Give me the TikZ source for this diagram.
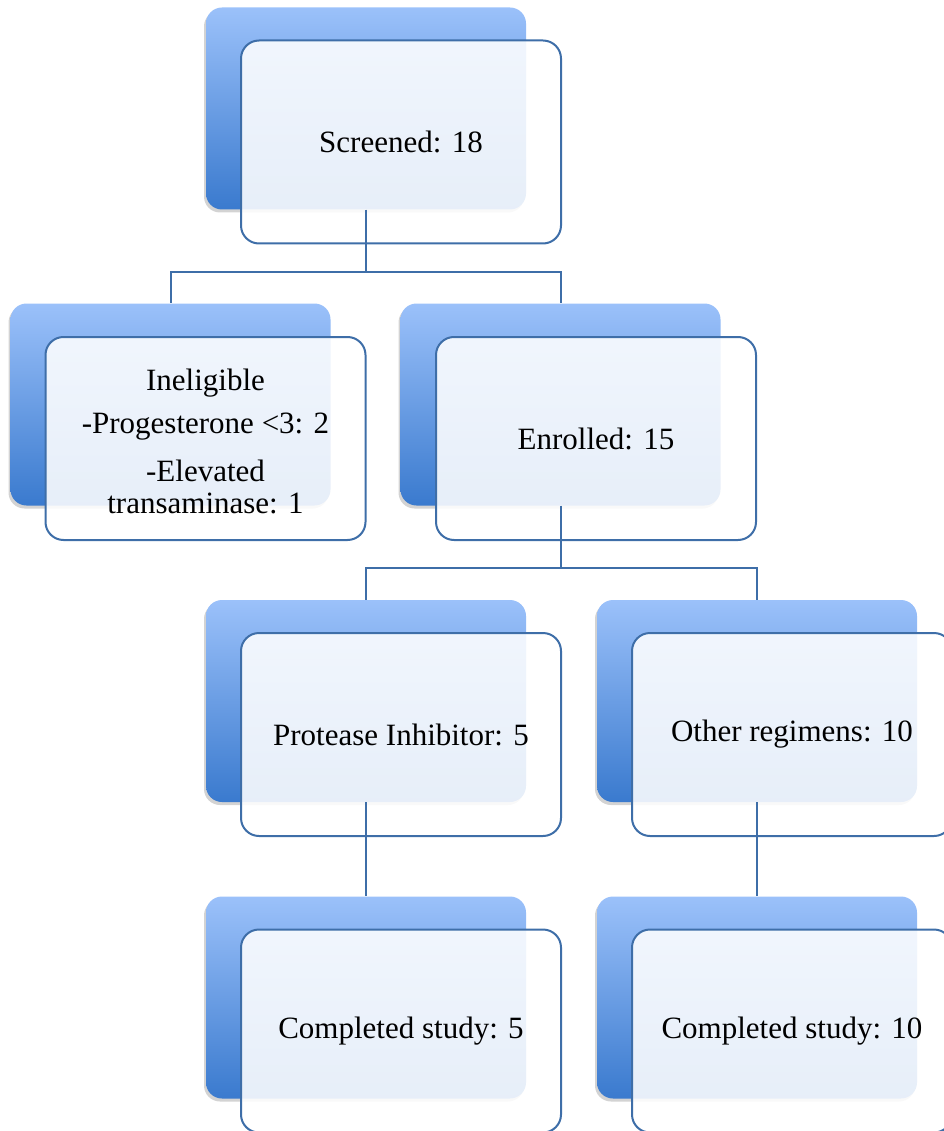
\documentclass[tikz,border=0pt]{standalone}
\usepackage{fontspec}
\setmainfont{Liberation Serif}
\usetikzlibrary{shadows}
\definecolor{btop}{RGB}{155,193,250}
\definecolor{bbot}{RGB}{58,122,206}
\definecolor{edgeblue}{RGB}{62,110,168}
\begin{document}
\begin{tikzpicture}[x=1pt,y=-1pt,
 backbox/.style={rectangle, rounded corners=16pt, minimum width=320pt, minimum height=202pt, top color=btop, bottom color=bbot, draw=none, drop shadow={shadow xshift=-2pt,shadow yshift=-3pt,opacity=0.35}},
 frontbox/.style={rectangle, rounded corners=18pt, minimum width=320pt, minimum height=203pt, draw=edgeblue, line width=2pt, fill=white, fill opacity=0.88, draw opacity=1, text opacity=1, align=center, font=\fontsize{31}{32}\selectfont},
 label text/.style={align=center, font=\fontsize{31}{32}\selectfont},
 link/.style={draw=edgeblue, line width=2pt}]
\useasboundingbox (0,0) rectangle (943,1131);
% back boxes
\node[backbox] (b1) at (366,108.5) {};
\node[backbox] (b2) at (170.5,404.5) {};
\node[backbox] (b3) at (560.5,404.5) {};
\node[backbox] (b4) at (366,701) {};
\node[backbox] (b5) at (757,701) {};
\node[backbox] (b6) at (366,997.5) {};
\node[backbox] (b7) at (757,997.5) {};
% front boxes
\node[frontbox] (f1) at (401,142) {Screened: 18};
\node[frontbox] (f2) at (205.5,438.5) {};
\node[label text] (t2) at ([yshift=-2.5pt]f2.center) {Ineligible\\[11pt]-Progesterone <3: 2\\[16pt]-Elevated\\transaminase: 1};
\node[frontbox] (f3) at (596,438.5) {Enrolled: 15};
\node[frontbox] (f4) at (401,734.5) {Protease Inhibitor: 5};
\node[frontbox] (f5) at (792,734.5) {Other regimens: 10};
\node[frontbox] (f6) at (401,1031) {Completed study: 5};
\node[frontbox] (f7) at (792,1031) {Completed study: 10};
% connectors
\coordinate (j1) at (366,272);
\coordinate (j2) at (560.5,568);
\draw[link] (b1.south) -- (j1) -| (b2.north);
\draw[link] (j1) -| (b3.north);
\draw[link] (b3.south) -- (j2) -| (b4.north);
\draw[link] (j2) -| (b5.north);
\draw[link] (b4.south) -- (b6.north);
\draw[link] (b5.south) -- (b7.north);
\end{tikzpicture}
\end{document}
